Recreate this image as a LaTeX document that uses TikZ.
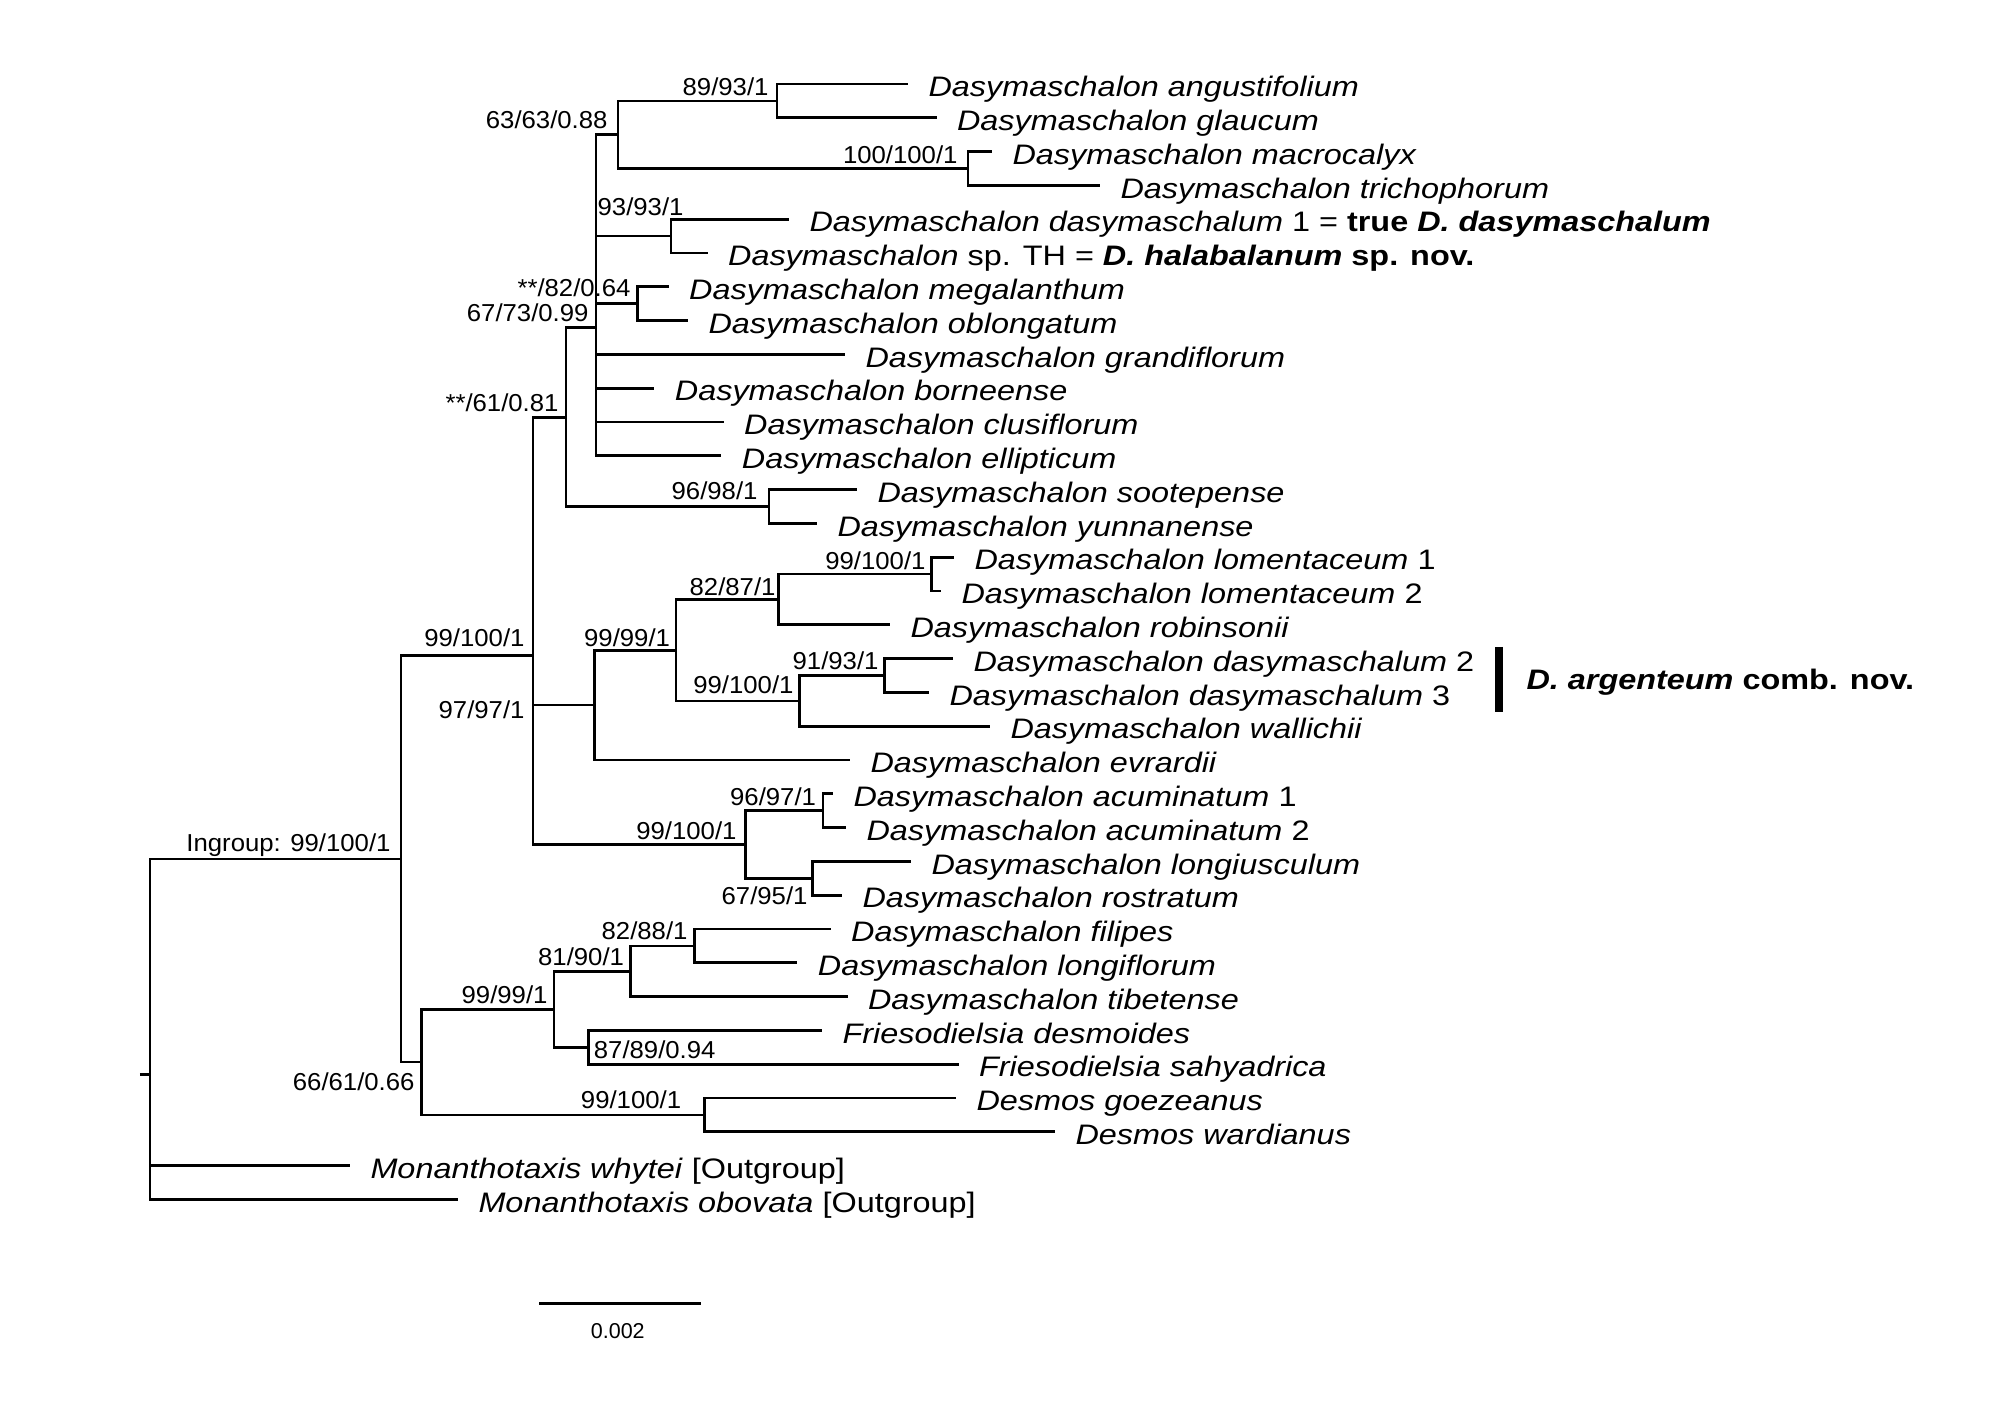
\documentclass[tikz,border=0pt]{standalone}
\usepackage{fontspec}
\setmainfont{Liberation Sans}
\newfontfamily\taxfont{Liberation Sans}[FakeStretch=1.15]
\newfontfamily\labfont{Liberation Sans}[FakeStretch=1.05]
\newfontfamily\plainfont{Liberation Sans}
\begin{document}
\begin{tikzpicture}[x=0.4pt,y=-0.4pt,
  br/.style={line width=1.05pt, line join=miter},
  tax/.style={anchor=base west, inner sep=0pt, xshift=8pt, yshift=-5.1pt, font=\taxfont\fontsize{11.27}{13}\selectfont},
  supp/.style={anchor=base east, inner sep=0pt, yshift=-0.5pt, font=\labfont\fontsize{9.8}{11}\selectfont},
  note/.style={anchor=base west, inner sep=0pt, font=\taxfont\fontsize{11.27}{13}\selectfont\bfseries},
  barlab/.style={anchor=base, inner sep=0pt, font=\plainfont\fontsize{8.6}{10}\selectfont}]
\useasboundingbox (0,0) rectangle (2012,1423);
% tips
\coordinate (l1) at (908,84);
\coordinate (l2) at (936.5,117.8);
\coordinate (l3) at (992,151.6);
\coordinate (l4) at (1100,185.4);
\coordinate (l5) at (789,219.2);
\coordinate (l6) at (707.6,253);
\coordinate (l7) at (668.7,286.8);
\coordinate (l8) at (688,320.6);
\coordinate (l9) at (845,354.4);
\coordinate (l10) at (654.4,388.2);
\coordinate (l11) at (723.6,422);
\coordinate (l12) at (721.4,455.8);
\coordinate (l13) at (857,489.6);
\coordinate (l14) at (817,523.4);
\coordinate (l15) at (954,557.2);
\coordinate (l16) at (941,591);
\coordinate (l17) at (890,624.8);
\coordinate (l18) at (953,658.6);
\coordinate (l19) at (929,692.4);
\coordinate (l20) at (990,726.2);
\coordinate (l21) at (850,760);
\coordinate (l22) at (833,793.8);
\coordinate (l23) at (846,827.6);
\coordinate (l24) at (911,861.4);
\coordinate (l25) at (842,895.2);
\coordinate (l26) at (830.6,929);
\coordinate (l27) at (797.4,962.8);
\coordinate (l28) at (847.5,996.6);
\coordinate (l29) at (822,1030.4);
\coordinate (l30) at (958.5,1064.2);
\coordinate (l31) at (956,1098);
\coordinate (l32) at (1055,1131.8);
\coordinate (l33) at (350,1165.6);
\coordinate (l34) at (458,1199.4);
% internal nodes
\coordinate (B) at (777,100.9);
\coordinate (C) at (968,168.5);
\coordinate (A) at (618,134.7);
\coordinate (D) at (671,236.1);
\coordinate (E) at (637.5,303.7);
\coordinate (P) at (596,327.8);
\coordinate (G) at (769,506.5);
\coordinate (F) at (566,417.2);
\coordinate (M) at (931.5,574.1);
\coordinate (K) at (778.6,599.5);
\coordinate (N) at (884.3,675.5);
\coordinate (L) at (799.5,700.9);
\coordinate (J) at (676,650.2);
\coordinate (I) at (594.6,705.1);
\coordinate (Ac) at (823,810.7);
\coordinate (R) at (812.8,878.3);
\coordinate (Q) at (745.5,844.5);
\coordinate (H) at (533,655.6);
\coordinate (X) at (694.4,945.9);
\coordinate (V) at (630.6,971.3);
\coordinate (W) at (588.3,1047.3);
\coordinate (T) at (554,1009.3);
\coordinate (U) at (704.6,1114.9);
\coordinate (S) at (421.4,1062.1);
\coordinate (IG) at (401,858.9);
\coordinate (root) at (150,1074.6);
\coordinate (rootstub) at (139.8,1074.6);
% branches
\draw[br] (rootstub) -- (root);
\foreach \p/\c in {root/IG, root/l33, root/l34, IG/H, IG/S, H/F, H/I, H/Q,
  F/P, F/G, P/A, P/D, P/E, P/l9, P/l10, P/l11, P/l12, A/B, A/C, B/l1, B/l2,
  C/l3, C/l4, D/l5, D/l6, E/l7, E/l8, G/l13, G/l14, I/J, I/l21, J/K, J/L,
  K/M, K/l17, M/l15, M/l16, L/N, L/l20, N/l18, N/l19, Q/Ac, Q/R, Ac/l22, Ac/l23,
  R/l24, R/l25, S/T, S/U, T/V, T/W, V/X, V/l28, X/l26, X/l27, W/l29, W/l30,
  U/l31, U/l32}
  \draw[br] (\p) |- (\c);
% taxa
\node[tax] (t1) at (l1) {\itshape Dasymaschalon angustifolium};
\node[tax] (t2) at (l2) {\itshape Dasymaschalon glaucum};
\node[tax] (t3) at (l3) {\itshape Dasymaschalon macrocalyx};
\node[tax] (t4) at (l4) {\itshape Dasymaschalon trichophorum};
\node[tax] (t5) at (l5) {\textit{Dasymaschalon dasymaschalum} 1 = \textbf{true \textit{D. dasymaschalum}}};
\node[tax] (t6) at (l6) {\textit{Dasymaschalon} sp. TH = \textbf{\textit{D. halabalanum} sp. nov.}};
\node[tax] (t7) at (l7) {\itshape Dasymaschalon megalanthum};
\node[tax] (t8) at (l8) {\itshape Dasymaschalon oblongatum};
\node[tax] (t9) at (l9) {\itshape Dasymaschalon grandiflorum};
\node[tax] (t10) at (l10) {\itshape Dasymaschalon borneense};
\node[tax] (t11) at (l11) {\itshape Dasymaschalon clusiflorum};
\node[tax] (t12) at (l12) {\itshape Dasymaschalon ellipticum};
\node[tax] (t13) at (l13) {\itshape Dasymaschalon sootepense};
\node[tax] (t14) at (l14) {\itshape Dasymaschalon yunnanense};
\node[tax] (t15) at (l15) {\textit{Dasymaschalon lomentaceum} 1};
\node[tax] (t16) at (l16) {\textit{Dasymaschalon lomentaceum} 2};
\node[tax] (t17) at (l17) {\itshape Dasymaschalon robinsonii};
\node[tax] (t18) at (l18) {\textit{Dasymaschalon dasymaschalum} 2};
\node[tax] (t19) at (l19) {\textit{Dasymaschalon dasymaschalum} 3};
\node[tax] (t20) at (l20) {\itshape Dasymaschalon wallichii};
\node[tax] (t21) at (l21) {\itshape Dasymaschalon evrardii};
\node[tax] (t22) at (l22) {\textit{Dasymaschalon acuminatum} 1};
\node[tax] (t23) at (l23) {\textit{Dasymaschalon acuminatum} 2};
\node[tax] (t24) at (l24) {\itshape Dasymaschalon longiusculum};
\node[tax] (t25) at (l25) {\itshape Dasymaschalon rostratum};
\node[tax] (t26) at (l26) {\itshape Dasymaschalon filipes};
\node[tax] (t27) at (l27) {\itshape Dasymaschalon longiflorum};
\node[tax] (t28) at (l28) {\itshape Dasymaschalon tibetense};
\node[tax] (t29) at (l29) {\itshape Friesodielsia desmoides};
\node[tax] (t30) at (l30) {\itshape Friesodielsia sahyadrica};
\node[tax] (t31) at (l31) {\itshape Desmos goezeanus};
\node[tax] (t32) at (l32) {\itshape Desmos wardianus};
\node[tax] (t33) at (l33) {\textit{Monanthotaxis whytei} [Outgroup]};
\node[tax] (t34) at (l34) {\textit{Monanthotaxis obovata} [Outgroup]};
% support values
\node[supp] (sA) at (608,127.3) {63/63/0.88};
\node[supp] (sB) at (769,94.4) {89/93/1};
\node[supp] (sC) at (958,162.7) {100/100/1};
\node[supp] (sD) at (684,214.7) {93/93/1};
\node[supp] (sE) at (631,295.7) {**/82/0.64};
\node[supp] (sP) at (589,320.4) {67/73/0.99};
\node[supp] (sF) at (559,410.4) {**/61/0.81};
\node[supp] (sG) at (758,498) {96/98/1};
\node[supp] (sM) at (926,568.7) {99/100/1};
\node[supp] (sK) at (776,594.4) {82/87/1};
\node[supp] (sJ) at (670.5,645.4) {99/99/1};
\node[supp] (sH) at (525,645.7) {99/100/1};
\node[supp] (sN) at (879,668.7) {91/93/1};
\node[supp] (sL) at (794,692.7) {99/100/1};
\node[supp] (sI) at (525,717.7) {97/97/1};
\node[supp] (sAc) at (816.5,804.7) {96/97/1};
\node[supp] (sQ) at (737,838) {99/100/1};
\node[supp] (sIG) at (391,850) {Ingroup: 99/100/1};
\node[supp] (sR) at (808,903.7) {67/95/1};
\node[supp] (sX) at (688,938.7) {82/88/1};
\node[supp] (sV) at (624.5,964.7) {81/90/1};
\node[supp] (sT) at (548,1002) {99/99/1};
\node[supp] (sW) at (716,1057) {87/89/0.94};
\node[supp] (sS) at (415,1089.7) {66/61/0.66};
\node[supp] (sU) at (681.6,1107.7) {99/100/1};
% clade bar
\coordinate (cbt) at (1499,647);
\coordinate (cbb) at (1499,712);
\draw[line width=3.1pt] (cbt) -- (cbb);
\node[note] (cbl) at (1526,690) {\itshape D. argenteum\upshape\ comb. nov.};
% scale bar
\coordinate (sb1) at (539.3,1303.3);
\coordinate (sb2) at (700.7,1303.3);
\draw[line width=1.1pt] (sb1) -- (sb2);
\node[barlab] (sbl) at (617.8,1338.3) {0.002};
\end{tikzpicture}
\end{document}
